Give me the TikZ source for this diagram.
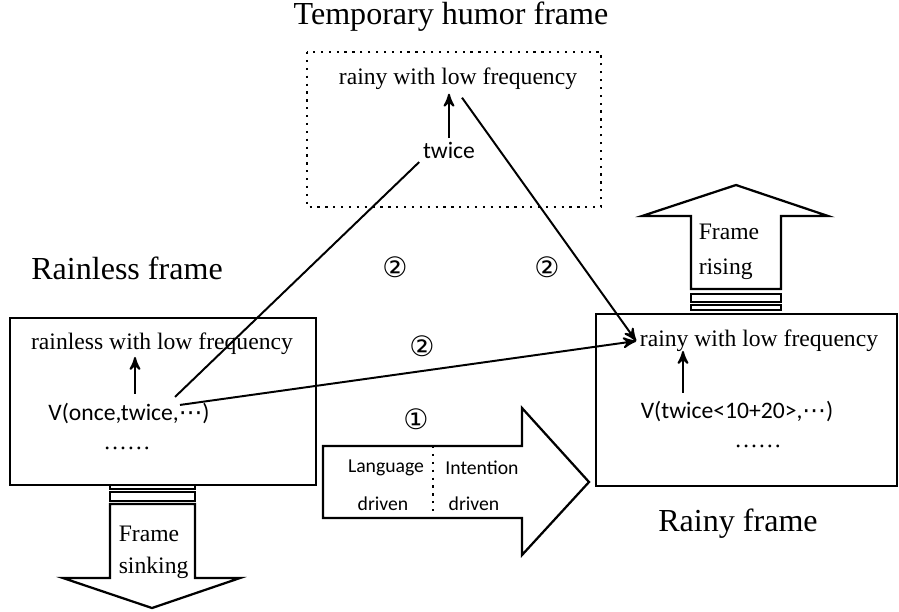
\documentclass[tikz,border=0pt]{standalone}
\usepackage{fontspec}
\setmainfont{Liberation Serif}
\newfontfamily\cali{Carlito}
\newfontfamily\dejavu{DejaVu Sans}
\usetikzlibrary{arrows,calc}

\tikzset{
  lbl/.style={inner sep=1pt,font=\fontsize{8.4}{10}\selectfont},
  slbl/.style={inner sep=1pt,font=\cali\fontsize{8.4}{10}\selectfont},
  tiny/.style={inner sep=1pt,font=\cali\fontsize{7}{9}\selectfont},
  ttl/.style={inner sep=1pt,font=\fontsize{11.4}{13}\selectfont},
  num/.style={inner sep=0pt,font=\dejavu\fontsize{10}{11}\selectfont},
  frm/.style={draw,line width=0.8pt},
}
\newcommand{\mdots}{{\dejavu\fontsize{8.4}{10}\selectfont ⋯}}

\begin{document}
\begin{tikzpicture}[x=0.0125cm,y=-0.0125cm,>=stealth',line width=0.7pt]
  \useasboundingbox (0,0) rectangle (899,611);

  % temporary humor frame
  \node[ttl] (ttmp) at (451,17) {Temporary humor frame};
  \draw[line width=0.8pt,dotted] (307,52) rectangle (601,207);
  \node[lbl] (rtmp) at (458,79) {rainy with low frequency};
  \node[slbl] (twice) at (449,150) {twice};
  \draw[->] (twice) -- (twice |- rtmp.south);

  % rainless frame
  \node[ttl] (tless) at (127,268) {Rainless frame};
  \draw[frm] (10,318) rectangle (316,485);
  \node[lbl] (rless) at (162,344) {rainless with low frequency};
  \node[slbl] (vonce) at (129,413) {V(once,twice,\mdots)};
  \node[lbl] (dl) at (127,448) {……};
  \draw[->] ($(vonce.north)+(6,-5)$) -- ($(vonce.north)+(6,-42)$);

  % sinking
  \draw[frm] (110,485) rectangle (195,489);
  \draw[frm] (110,492) rectangle (195,501);
  \draw[frm] (110,504) -- (195,504) -- (195,578) -- (240,578) -- (152,608)
    -- (63,578) -- (110,578) -- cycle;
  \node[lbl,anchor=west] (sk1) at (115,534) {Frame};
  \node[lbl,anchor=west] (sk2) at (115,568) {sinking};

  % rainy frame
  \node[ttl] (train) at (738,524) {Rainy frame};
  \draw[frm] (596,314) rectangle (897,486);
  \node[lbl] (rrain) at (759,341) {rainy with low frequency};
  \node[slbl] (vtwice) at (737,411) {V(twice<10+20>,\mdots)};
  \node[lbl] (dr) at (758,446) {……};
  \draw[->] ($(vtwice.north)+(-54,-4)$) -- ($(vtwice.north)+(-54,-46)$);

  % rising
  \draw[frm] (691,294) rectangle (781,302);
  \draw[frm] (691,305) rectangle (781,310);
  \draw[frm] (691,289) -- (781,289) -- (781,216) -- (828,216) -- (736,185)
    -- (642,216) -- (691,216) -- cycle;
  \node[lbl,anchor=west] (rs1) at (695,232) {Frame};
  \node[lbl,anchor=west] (rs2) at (695,269) {rising};

  % driving arrow
  \draw[frm] (323,446) -- (522,446) -- (522,408) -- (589,482) -- (522,555)
    -- (522,518) -- (323,518) -- cycle;
  \draw[line width=0.8pt,dotted] (433,446) -- (433,512);
  \node[tiny] (lang) at (386,468) {Language};
  \node[tiny] (ld) at (383,504) {driven};
  \node[tiny] (intn) at (482,468) {Intention};
  \node[tiny] (idr) at (474,504) {driven};

  % numbers
  \node[num] (n1) at (416,419) {①};
  \node[num] (n2a) at (395,267) {②};
  \node[num] (n2b) at (547,267) {②};
  \node[num] (n2c) at (422,346) {②};

  \path ($(vonce.north)+(46,-2)$) edge (twice.south west)
        ($(rtmp.south)+(4,4)$) edge[->] (rrain.west)
        ($(vonce.north)+(51,6)$) edge[->] (rrain.west);
\end{tikzpicture}
\end{document}
